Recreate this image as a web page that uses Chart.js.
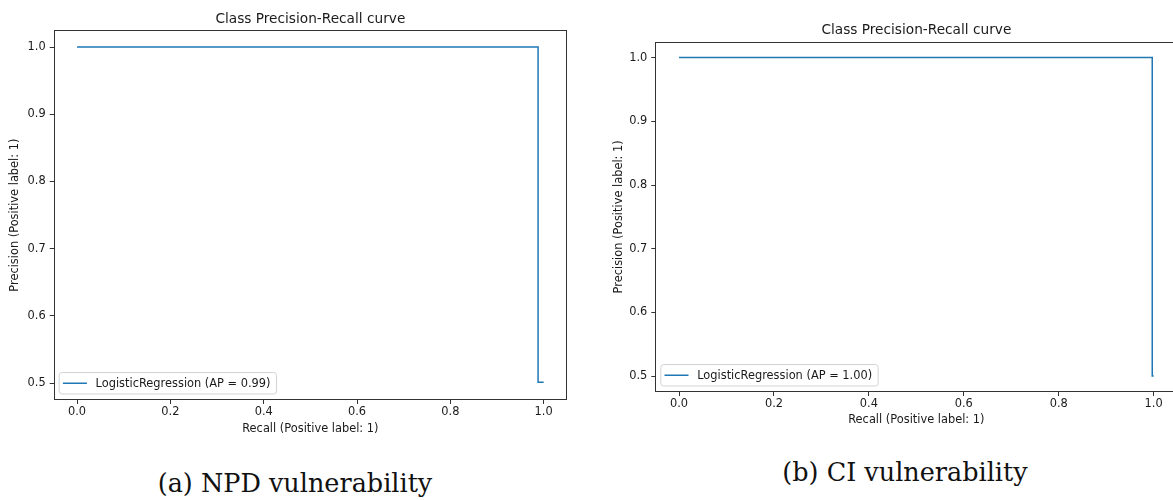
<!DOCTYPE html>
<html><head><meta charset="utf-8">
<script src="https://cdn.jsdelivr.net/npm/chart.js@4.4.1/dist/chart.umd.min.js"></script>
<style>
html,body{margin:0;padding:0;background:#fff;}
body{width:1173px;height:500px;overflow:hidden;position:relative;}
canvas{position:absolute;}
.cap{position:absolute;font-family:"DejaVu Serif",serif;font-size:25.5px;line-height:26px;color:#111;text-align:center;white-space:nowrap;}
</style></head><body>
<canvas id="c1" width="600" height="440" style="left:0;top:0"></canvas>
<canvas id="c2" width="600" height="430" style="left:600px;top:0"></canvas>
<div class="cap" style="left:95px;top:470px;width:400px">(a) NPD vulnerability</div>
<div class="cap" style="left:705px;top:459px;width:400px">(b) CI vulnerability</div>
<script>
const chartTitle = 'Class Precision-Recall curve';
const xAxisLabel = 'Recall (Positive label: 1)';
const yAxisLabel = 'Precision (Positive label: 1)';
const xTickValues = [0, 0.2, 0.4, 0.6, 0.8, 1.0];
const yTickValues = [0.5, 0.6, 0.7, 0.8, 0.9, 1.0];
const npdRecall = [0, 0.988, 0.988, 1.0];
const npdPrecision = [1.0, 1.0, 0.5015, 0.5015];
const npdLegend = 'LogisticRegression (AP = 0.99)';
const ciRecall = [0, 0.997, 0.997, 1.0];
const ciPrecision = [1.0, 1.0, 0.5, 0.5];
const ciLegend = 'LogisticRegression (AP = 1.00)';

const FONT = '"DejaVu Sans", sans-serif';
const TEXT = '#1a1a1a';
const BLUE = '#1f77b4';
const SMALL = 11.4;
const BIG = 13.7;

const decorPlugin = {
  id: 'decor',
  afterDraw(chart, args, opts) {
    const ctx = chart.ctx, ca = chart.chartArea;
    ctx.save();
    ctx.strokeStyle = '#333';
    ctx.lineWidth = 1;
    const l = Math.round(ca.left) + 0.5, t = Math.round(ca.top) + 0.5;
    const r = Math.round(ca.right) - 0.5, b = Math.round(ca.bottom) - 0.5;
    ctx.strokeRect(l, t, r - l, b - t);
    ctx.fillStyle = TEXT;
    ctx.font = BIG + 'px ' + FONT;
    ctx.textAlign = 'center';
    ctx.textBaseline = 'middle';
    ctx.fillText(chartTitle, (ca.left + ca.right) / 2, opts.titleY);
    const label = chart.data.datasets[0].label;
    ctx.font = SMALL + 'px ' + FONT;
    const tw = ctx.measureText(label).width;
    const h = 21.5, bx = ca.left + 5.5, by = ca.bottom - 6 - h;
    const w = 36.4 + tw + 6;
    ctx.beginPath();
    ctx.roundRect(bx, by, w, h, 3);
    ctx.fillStyle = 'rgba(255,255,255,0.8)';
    ctx.fill();
    ctx.strokeStyle = '#d3d3d3';
    ctx.stroke();
    ctx.beginPath();
    ctx.strokeStyle = BLUE;
    ctx.lineWidth = 1.5;
    ctx.moveTo(bx + 3.7, by + h / 2);
    ctx.lineTo(bx + 27.7, by + h / 2);
    ctx.stroke();
    ctx.fillStyle = TEXT;
    ctx.textAlign = 'left';
    ctx.fillText(label, bx + 36.4, by + h / 2 + 0.5);
    ctx.restore();
  }
};

function makeChart(id, recall, precision, legend, cfg) {
  const pts = recall.map((x, i) => ({x: x, y: precision[i]}));
  return new Chart(document.getElementById(id), {
    type: 'line',
    data: {datasets: [{label: legend, data: pts, borderColor: BLUE, borderWidth: 1.5,
      pointRadius: 0, pointHoverRadius: 0, tension: 0, fill: false}]},
    plugins: [decorPlugin],
    options: {
      responsive: false, animation: false, devicePixelRatio: 1,
      events: [],
      layout: {padding: {left: 0, top: cfg.top, right: cfg.right, bottom: cfg.bottom}},
      plugins: {legend: {display: false}, title: {display: false}, tooltip: {enabled: false},
        decor: {titleY: cfg.titleY}},
      scales: {
        x: {
          type: 'linear', min: -0.05, max: 1.05,
          afterBuildTicks: s => { s.ticks = xTickValues.map(v => ({value: v})); },
          afterFit: s => { s.height = cfg.xH; },
          grid: {display: true, drawOnChartArea: false, drawTicks: true, tickLength: 4, color: '#333', lineWidth: 1},
          border: {display: false},
          ticks: {padding: 1, color: TEXT, font: {family: FONT, size: SMALL}, maxRotation: 0,
            callback: v => Number(v).toFixed(1)},
          title: {display: true, text: xAxisLabel, color: TEXT, font: {family: FONT, size: SMALL},
            padding: {top: 0, bottom: 0}}
        },
        y: {
          type: 'linear', min: 0.475, max: 1.025,
          afterBuildTicks: s => { s.ticks = yTickValues.map(v => ({value: v})); },
          afterFit: s => { s.width = cfg.yW; },
          grid: {display: true, drawOnChartArea: false, drawTicks: true, tickLength: 4, color: '#333', lineWidth: 1},
          border: {display: false},
          ticks: {padding: 4, color: TEXT, font: {family: FONT, size: SMALL},
            callback: v => Number(v).toFixed(1)},
          title: {display: true, text: yAxisLabel, color: TEXT, font: {family: FONT, size: SMALL},
            padding: {top: cfg.yTitlePad, bottom: 0}}
        }
      }
    }
  });
}

makeChart('c1', npdRecall, npdPrecision, npdLegend,
  {top: 30.3, right: 33, bottom: 4, xH: 36, yW: 53.7, titleY: 19, yTitlePad: 8});
makeChart('c2', ciRecall, ciPrecision, ciLegend,
  {top: 41.7, right: 22.6, bottom: 3, xH: 35, yW: 55.3, titleY: 30, yTitlePad: 12});
</script>
</body></html>
